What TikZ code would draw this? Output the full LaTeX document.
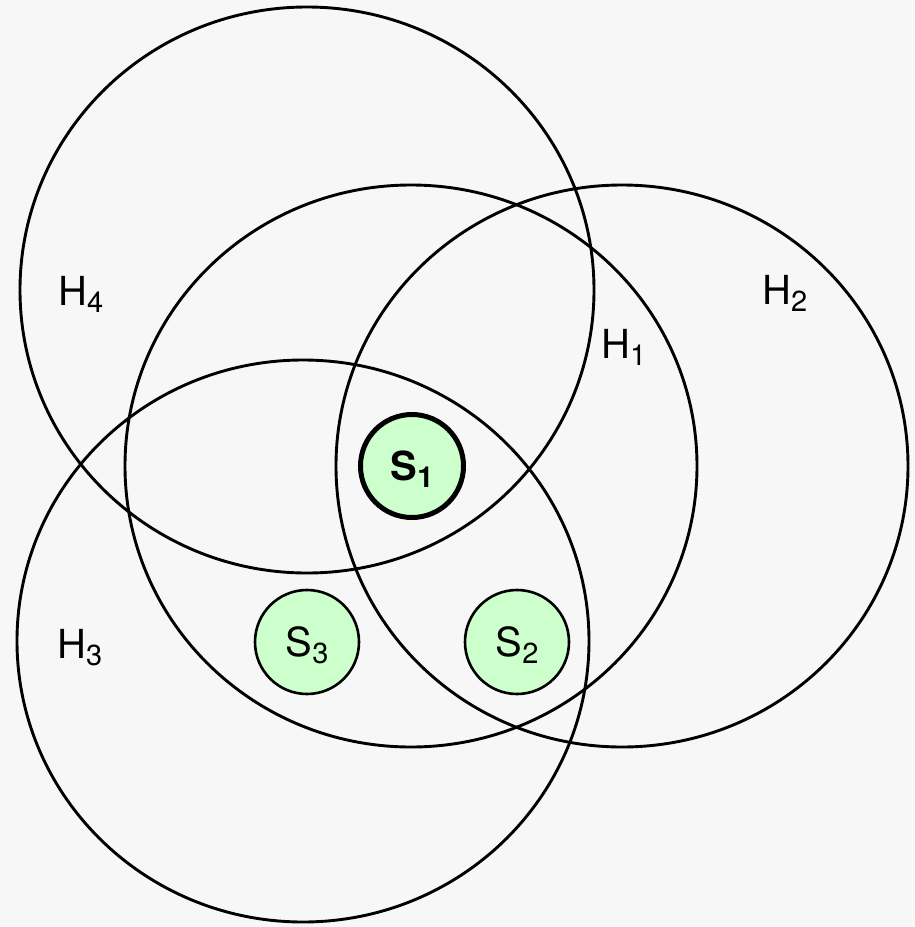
\documentclass[tikz,border=0pt]{standalone}
\usepackage{fontspec}
\setmainfont{TeX Gyre Heros}
\definecolor{bg}{HTML}{F7F7F7}
\definecolor{sfill}{HTML}{CCFFCC}
\newcommand{\lbl}[2]{#1\smash{\raisebox{-7pt}{\fontsize{29}{30}\selectfont #2}}}
\begin{document}
\begin{tikzpicture}[x=1pt,y=-1pt,
  hcirc/.style={line width=2.9pt, draw=black},
  sbox/.style={circle, draw=black, fill=sfill, line width=2.6pt, minimum size=104pt, inner sep=0pt, font=\fontsize{40}{48}\selectfont},
  sboxbold/.style={sbox, line width=5pt, minimum size=103pt, font=\fontsize{40}{48}\selectfont\bfseries},
  hlabel/.style={font=\fontsize{40}{48}\selectfont, inner sep=0pt, anchor=base west}]
\fill[bg] (0,0) rectangle (915,927);
\useasboundingbox (0,0) rectangle (915,927);
% large circles
\draw[hcirc] (307,290) ellipse [x radius=287, y radius=283];
\draw[hcirc] (411,466) ellipse [x radius=286, y radius=281];
\draw[hcirc] (622,466) ellipse [x radius=286, y radius=281];
\draw[hcirc] (303,641) ellipse [x radius=286, y radius=281];
% labels
\node[hlabel] (h4) at (58,305) {\lbl{H}{4}};
\node[hlabel] (h3) at (57,658) {\lbl{H}{3}};
\node[hlabel] (h2) at (762,304) {\lbl{H}{2}};
\node[hlabel] (h1) at (601,358) {\lbl{H}{1}};
% sensors
\node[sboxbold] (s1) at (412,466) {\lbl{S}{1}};
\node[sbox] (s2) at (517,642) {\lbl{S}{2}};
\node[sbox] (s3) at (307,642) {\lbl{S}{3}};
\end{tikzpicture}
\end{document}
